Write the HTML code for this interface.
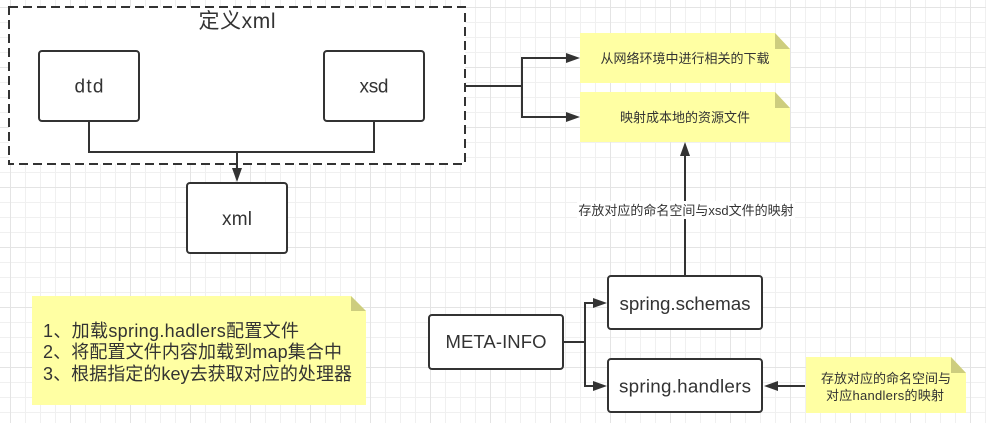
<!DOCTYPE html>
<html><head><meta charset="utf-8">
<style>
html,body{margin:0;padding:0;background:#fff}
svg{display:block}
text{font-family:"Liberation Sans","Noto Sans CJK SC",sans-serif;fill:#333;text-anchor:middle}
</style></head>
<body>
<svg width="986" height="423" viewBox="0 0 986 423" xmlns="http://www.w3.org/2000/svg">
<defs>
<pattern id="minor" x="10" y="7" width="15" height="15" patternUnits="userSpaceOnUse">
<path d="M0.5 0V15M0 0.5H15" stroke="#f0f0f0" stroke-width="1" fill="none"/>
</pattern>
<pattern id="major" x="10" y="7" width="60" height="60" patternUnits="userSpaceOnUse">
<path d="M0.5 0V60M0 0.5H60" stroke="#e4e4e4" stroke-width="1" fill="none"/>
</pattern>
</defs>
<rect width="986" height="423" fill="#fff"/>
<rect width="986" height="423" fill="url(#minor)"/>
<rect width="986" height="423" fill="url(#major)"/>

<!-- dashed container -->
<rect x="9" y="7" width="456" height="157" fill="#fff" stroke="#333" stroke-width="2" stroke-dasharray="9 5"/>
<text x="237" y="28" font-size="21" textLength="77">定义xml</text>

<g fill="#fff" stroke="#333" stroke-width="2">
<rect x="39" y="51" width="100" height="70" rx="3"/>
<rect x="324" y="51" width="100" height="70" rx="3"/>
<rect x="187" y="183" width="100" height="70" rx="3"/>
<rect x="429" y="315" width="134" height="54" rx="3"/>
<rect x="608" y="276" width="154" height="53" rx="3"/>
<rect x="608" y="359" width="154" height="53" rx="3"/>
</g>

<text x="89" y="92.500" font-size="19" textLength="29">dtd</text>
<text x="374" y="92.500" font-size="19" textLength="29">xsd</text>
<text x="237" y="225" font-size="19" textLength="30">xml</text>
<text x="496" y="348" font-size="18.500" textLength="101">META-INFO</text>
<text x="685" y="310" font-size="18.800" textLength="131">spring.schemas</text>
<text x="685" y="392.500" font-size="18.800" textLength="132">spring.handlers</text>

<!-- connectors -->
<g fill="none" stroke="#333" stroke-width="2">
<path d="M89 121V152H374V121"/>
<path d="M237 152V170"/>
<path d="M465 86H522M568 58H522V117H568"/>
<path d="M685 275V154"/>
<path d="M563 342H585M596 303H585V386H596"/>
<path d="M805 386H778"/>
</g>
<g fill="#333" stroke="none">
<path d="M237 182L232 168H242Z"/>
<path d="M580 58L566 53V63Z"/>
<path d="M580 117L566 112V122Z"/>
<path d="M685 142L680 156H690Z"/>
<path d="M607 303L593 298V308Z"/>
<path d="M607 386L593 381V391Z"/>
<path d="M764 386L778 381V391Z"/>
</g>

<!-- connector label -->
<rect x="577" y="201" width="218" height="18" fill="#fff"/>
<text x="686" y="215" font-size="13">存放对应的命名空间与xsd文件的映射</text>

<!-- notes -->
<g fill="#ffffa3">
<path d="M580 33H775L790 49V83H580Z"/>
<path d="M580 92H775L790 108V142H580Z"/>
<path d="M32 296H351L366 311V405H32Z"/>
<path d="M806 357H951L966 373V413H806Z"/>
</g>
<g fill="#cdcd7e">
<path d="M775 33L790 49H775Z"/>
<path d="M775 92L790 108H775Z"/>
<path d="M351 296L366 311H351Z"/>
<path d="M951 357L966 373H951Z"/>
</g>

<text x="685" y="63" font-size="13">从网络环境中进行相关的下载</text>
<text x="685" y="122" font-size="13">映射成本地的资源文件</text>
<text x="886" y="383" font-size="13">存放对应的命名空间与</text>
<text x="885" y="400" font-size="13" textLength="118">对应handlers的映射</text>

<g font-size="18">
<text x="43" y="337" style="text-anchor:start" textLength="256">1、加载spring.hadlers配置文件</text>
<text x="43" y="358" style="text-anchor:start" textLength="299">2、将配置文件内容加载到map集合中</text>
<text x="43" y="380" style="text-anchor:start" textLength="309">3、根据指定的key去获取对应的处理器</text>
</g>
</svg>
</body></html>
